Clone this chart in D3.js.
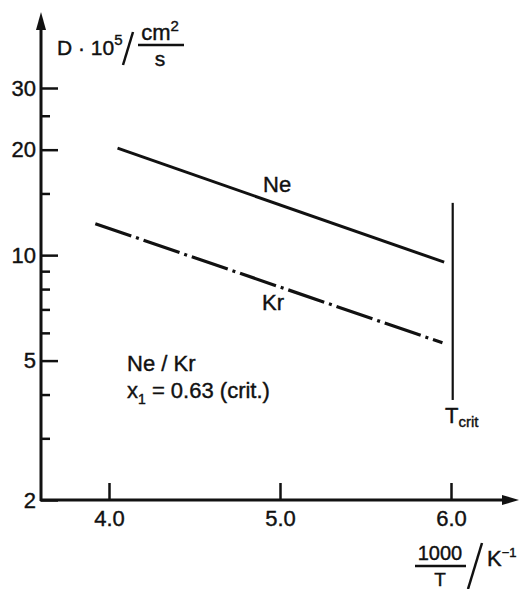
<!DOCTYPE html>
<html>
<head>
<meta charset="utf-8">
<script src="https://cdn.jsdelivr.net/npm/d3@7"></script>
<style>
  body { margin: 0; background: #fff; }
  text { font-family: "Liberation Sans", Arial, sans-serif; fill: #111; stroke: #111; stroke-width: 0.4px; }
  .tick text { font-size: 22px; }
</style>
</head>
<body>
<div class="chart"></div>
<script>
// values
var neX = [4.05, 5.96];
var neD = [20.2, 9.55];
var krX = [3.92, 5.95];
var krD = [12.3, 5.62];
var critX = [6.01, 6.01];
var critD = [3.86, 14.1];
var yMajor = [2, 5, 10, 20, 30];
var yMinor = [3, 4, 6, 7, 8, 9, 15, 25];
var xTicks = [4.0, 5.0, 6.0];

var svgWidth = 519, svgHeight = 589;
var svg = d3.select(".chart").append("svg")
  .attr("width", svgWidth).attr("height", svgHeight);

// axis corner at (41, 500)
var x = d3.scaleLinear().domain([4, 6]).range([109, 451]);
var y = d3.scaleLog().domain([2, 30]).range([500, 88]);
var x0 = 41, y0 = 500;

// y axis major ticks + labels
var yAxis = svg.append("g")
  .attr("transform", `translate(${x0},0)`)
  .call(d3.axisLeft(y).tickValues(yMajor).tickSize(-17).tickPadding(5).tickFormat(d3.format("d")));
yAxis.select(".domain").remove();

var yMinorAxis = svg.append("g")
  .attr("transform", `translate(${x0},0)`)
  .call(d3.axisLeft(y).tickValues(yMinor).tickSize(-9).tickFormat(""));
yMinorAxis.select(".domain").remove();

// x axis ticks pointing up
var xAxis = svg.append("g")
  .attr("transform", `translate(0,${y0})`)
  .call(d3.axisBottom(x).tickValues(xTicks).tickSize(-17).tickPadding(10).tickFormat(d3.format(".1f")));
xAxis.select(".domain").remove();

svg.selectAll(".tick line").attr("stroke", "#111").attr("stroke-width", 2.5);

// axis lines with arrows
svg.append("line").attr("x1", x0).attr("y1", y0 + 1).attr("x2", x0).attr("y2", 26)
  .attr("stroke", "#111").attr("stroke-width", 3);
svg.append("path").attr("d", `M${x0},12 L${x0 - 5},30 L${x0 + 5},30 Z`).attr("fill", "#111");
svg.append("line").attr("x1", x0 - 1).attr("y1", y0).attr("x2", 506).attr("y2", y0)
  .attr("stroke", "#111").attr("stroke-width", 3);
svg.append("path").attr("d", `M519,${y0} L502,${y0 - 5} L502,${y0 + 5} Z`).attr("fill", "#111");

var line = d3.line().x(d => x(d[0])).y(d => y(d[1]));

svg.append("path")
  .datum(d3.zip(neX, neD))
  .attr("d", line)
  .attr("fill", "none").attr("stroke", "#111").attr("stroke-width", 3);

svg.append("path")
  .datum(d3.zip(krX, krD))
  .attr("d", line)
  .attr("fill", "none").attr("stroke", "#111").attr("stroke-width", 3.2)
  .attr("stroke-dasharray", "38,5,3,5");

svg.append("path")
  .datum(d3.zip(critX, critD))
  .attr("d", line)
  .attr("fill", "none").attr("stroke", "#111").attr("stroke-width", 2.2);

// labels
svg.append("text").attr("x", 263).attr("y", 192).style("font-size", "22px").text("Ne");
svg.append("text").attr("x", 262).attr("y", 310).style("font-size", "22px").text("Kr");

svg.append("text").attr("x", 127).attr("y", 371).style("font-size", "22px").text("Ne / Kr");
var xt = svg.append("text").attr("x", 127).attr("y", 398).style("font-size", "22px");
xt.append("tspan").text("x");
xt.append("tspan").attr("dy", 6).style("font-size", "14px").text("1");
xt.append("tspan").attr("dy", -6).text(" = 0.63 (crit.)");

var tc = svg.append("text").attr("x", 445).attr("y", 423).style("font-size", "22px");
tc.append("tspan").text("T");
tc.append("tspan").attr("dy", 4).style("font-size", "15px").text("crit");

// y axis title: D · 10^5 / (cm^2 / s)
var yt = svg.append("text").attr("x", 57).attr("y", 55).style("font-size", "21px");
yt.append("tspan").text("D · 10");
yt.append("tspan").attr("dy", -10).style("font-size", "15px").text("5");
svg.append("line").attr("x1", 123).attr("y1", 65).attr("x2", 133).attr("y2", 32)
  .attr("stroke", "#111").attr("stroke-width", 2.5);
var cm = svg.append("text").attr("x", 160).attr("y", 40).attr("text-anchor", "middle").style("font-size", "22px");
cm.append("tspan").text("cm");
cm.append("tspan").attr("dy", -9).style("font-size", "15px").text("2");
svg.append("line").attr("x1", 138).attr("y1", 45).attr("x2", 184).attr("y2", 45)
  .attr("stroke", "#111").attr("stroke-width", 2.5);
svg.append("text").attr("x", 160).attr("y", 66).attr("text-anchor", "middle").style("font-size", "21px").text("s");

// x axis title: 1000/T / K^-1
svg.append("text").attr("x", 440).attr("y", 560).attr("text-anchor", "middle").style("font-size", "20px").text("1000");
svg.append("line").attr("x1", 415).attr("y1", 566).attr("x2", 466).attr("y2", 566)
  .attr("stroke", "#111").attr("stroke-width", 2.5);
svg.append("text").attr("x", 440).attr("y", 586).attr("text-anchor", "middle").style("font-size", "19px").text("T");
svg.append("line").attr("x1", 468).attr("y1", 589).attr("x2", 482).attr("y2", 543)
  .attr("stroke", "#111").attr("stroke-width", 2.5);
var kt = svg.append("text").attr("x", 487).attr("y", 566).style("font-size", "22px");
kt.append("tspan").text("K");
kt.append("tspan").attr("dy", -9).style("font-size", "13px").text("−1");
</script>
</body>
</html>
